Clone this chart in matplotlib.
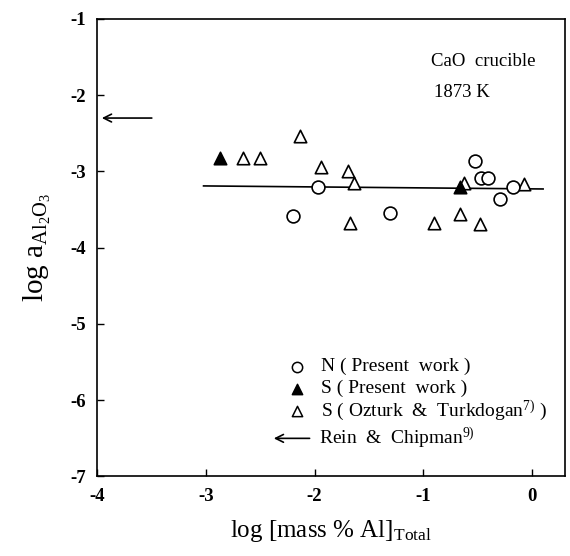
import numpy as np
import matplotlib
matplotlib.use("Agg")
import matplotlib.pyplot as plt

plt.rcParams['font.family'] = ['Liberation Serif', 'DejaVu Serif']
plt.rcParams['mathtext.fontset'] = 'custom'
plt.rcParams['mathtext.rm'] = 'Liberation Serif'
plt.rcParams['mathtext.it'] = 'Liberation Serif:italic'

# N (present work)
n_x = [-2.20, -1.97, -1.31, -0.53, -0.47, -0.41, -0.30, -0.18]
n_y = [-3.58, -3.20, -3.54, -2.86, -3.08, -3.08, -3.36, -3.21]

# S (present work)
s_x = [-2.87, -0.66]
s_y = [-2.82, -3.20]

# S (Ozturk & Turkdogan)
oz_x = [-2.66, -2.50, -2.13, -1.94, -1.69, -1.64, -1.67, -0.90, -0.66, -0.48, -0.08, -0.63]
oz_y = [-2.83, -2.83, -2.53, -2.94, -2.99, -3.15, -3.67, -3.67, -3.56, -3.69, -3.16, -3.15]

# fitted line
line_x = [-3.02, 0.10]
line_y = [-3.19, -3.23]

# Rein & Chipman
rein_y = -2.30

xticks = [-4, -3, -2, -1, 0]
yticks = [-1, -2, -3, -4, -5, -6, -7]

fig = plt.figure(figsize=(5.70, 5.56), dpi=100)
ax = fig.add_axes([0.170, 0.143, 0.821, 0.823])

ax.plot(line_x, line_y, color='black', lw=1.2, zorder=1)
ax.scatter(oz_x, oz_y, marker='^', s=80, facecolors='white', edgecolors='black', linewidths=1.2, zorder=2)
ax.scatter(n_x, n_y, marker='o', s=85, facecolors='white', edgecolors='black', linewidths=1.2, zorder=3)
ax.scatter(s_x, s_y, marker='^', s=80, facecolors='black', edgecolors='black', linewidths=1.2, zorder=4)

ax.annotate('', xy=(-3.98, rein_y), xytext=(-3.47, rein_y),
            arrowprops=dict(arrowstyle='->', color='black', lw=1.2, mutation_scale=14))

ax.text(-0.93, -1.56, 'CaO  crucible', fontsize=13.5, va='center')
ax.text(-0.90, -1.97, '1873 K', fontsize=13.5, va='center')

# legend drawn by hand
leg_mx = -2.16
leg_tx = -1.94
ax.scatter([leg_mx], [-5.56], marker='o', s=55, facecolors='white', edgecolors='black', linewidths=1.1)
ax.scatter([leg_mx], [-5.85], marker='^', s=55, facecolors='black', edgecolors='black', linewidths=1.1)
ax.scatter([leg_mx], [-6.14], marker='^', s=55, facecolors='white', edgecolors='black', linewidths=1.1)
ax.annotate('', xy=(-2.40, -6.50), xytext=(-2.02, -6.50),
            arrowprops=dict(arrowstyle='->', color='black', lw=1.2, mutation_scale=14))
ax.text(leg_tx, -5.56, 'N ( Present  work )', fontsize=14, va='center')
ax.text(leg_tx, -5.85, 'S ( Present  work )', fontsize=14, va='center')
ax.text(leg_tx, -6.14, r'S ( Ozturk  &  Turkdogan$^{\mathrm{7)}}$ )', fontsize=14, va='center')
ax.text(-1.96, -6.50, r'Rein  &  Chipman$^{\mathrm{9)}}$', fontsize=14, va='center')

ax.set_xlim(-4, 0.3)
ax.set_ylim(-7, -1)
ax.set_xticks(xticks)
ax.set_yticks(yticks)
ax.set_xticklabels([str(t) for t in xticks], fontsize=13.5, fontweight='bold')
ax.set_yticklabels([str(t) for t in yticks], fontsize=13.5, fontweight='bold')
ax.tick_params(direction='in', length=5, width=1, top=False, right=False, pad=8)
for sp in ax.spines.values():
    sp.set_linewidth(1.2)

ax.set_xlabel(r'log [mass % Al]$_{\mathrm{Total}}$', fontsize=18, labelpad=10)
ax.set_ylabel(r'log a$_{\mathrm{Al_2O_3}}$', fontsize=21, labelpad=12)

fig.savefig('out.png', dpi=100)
